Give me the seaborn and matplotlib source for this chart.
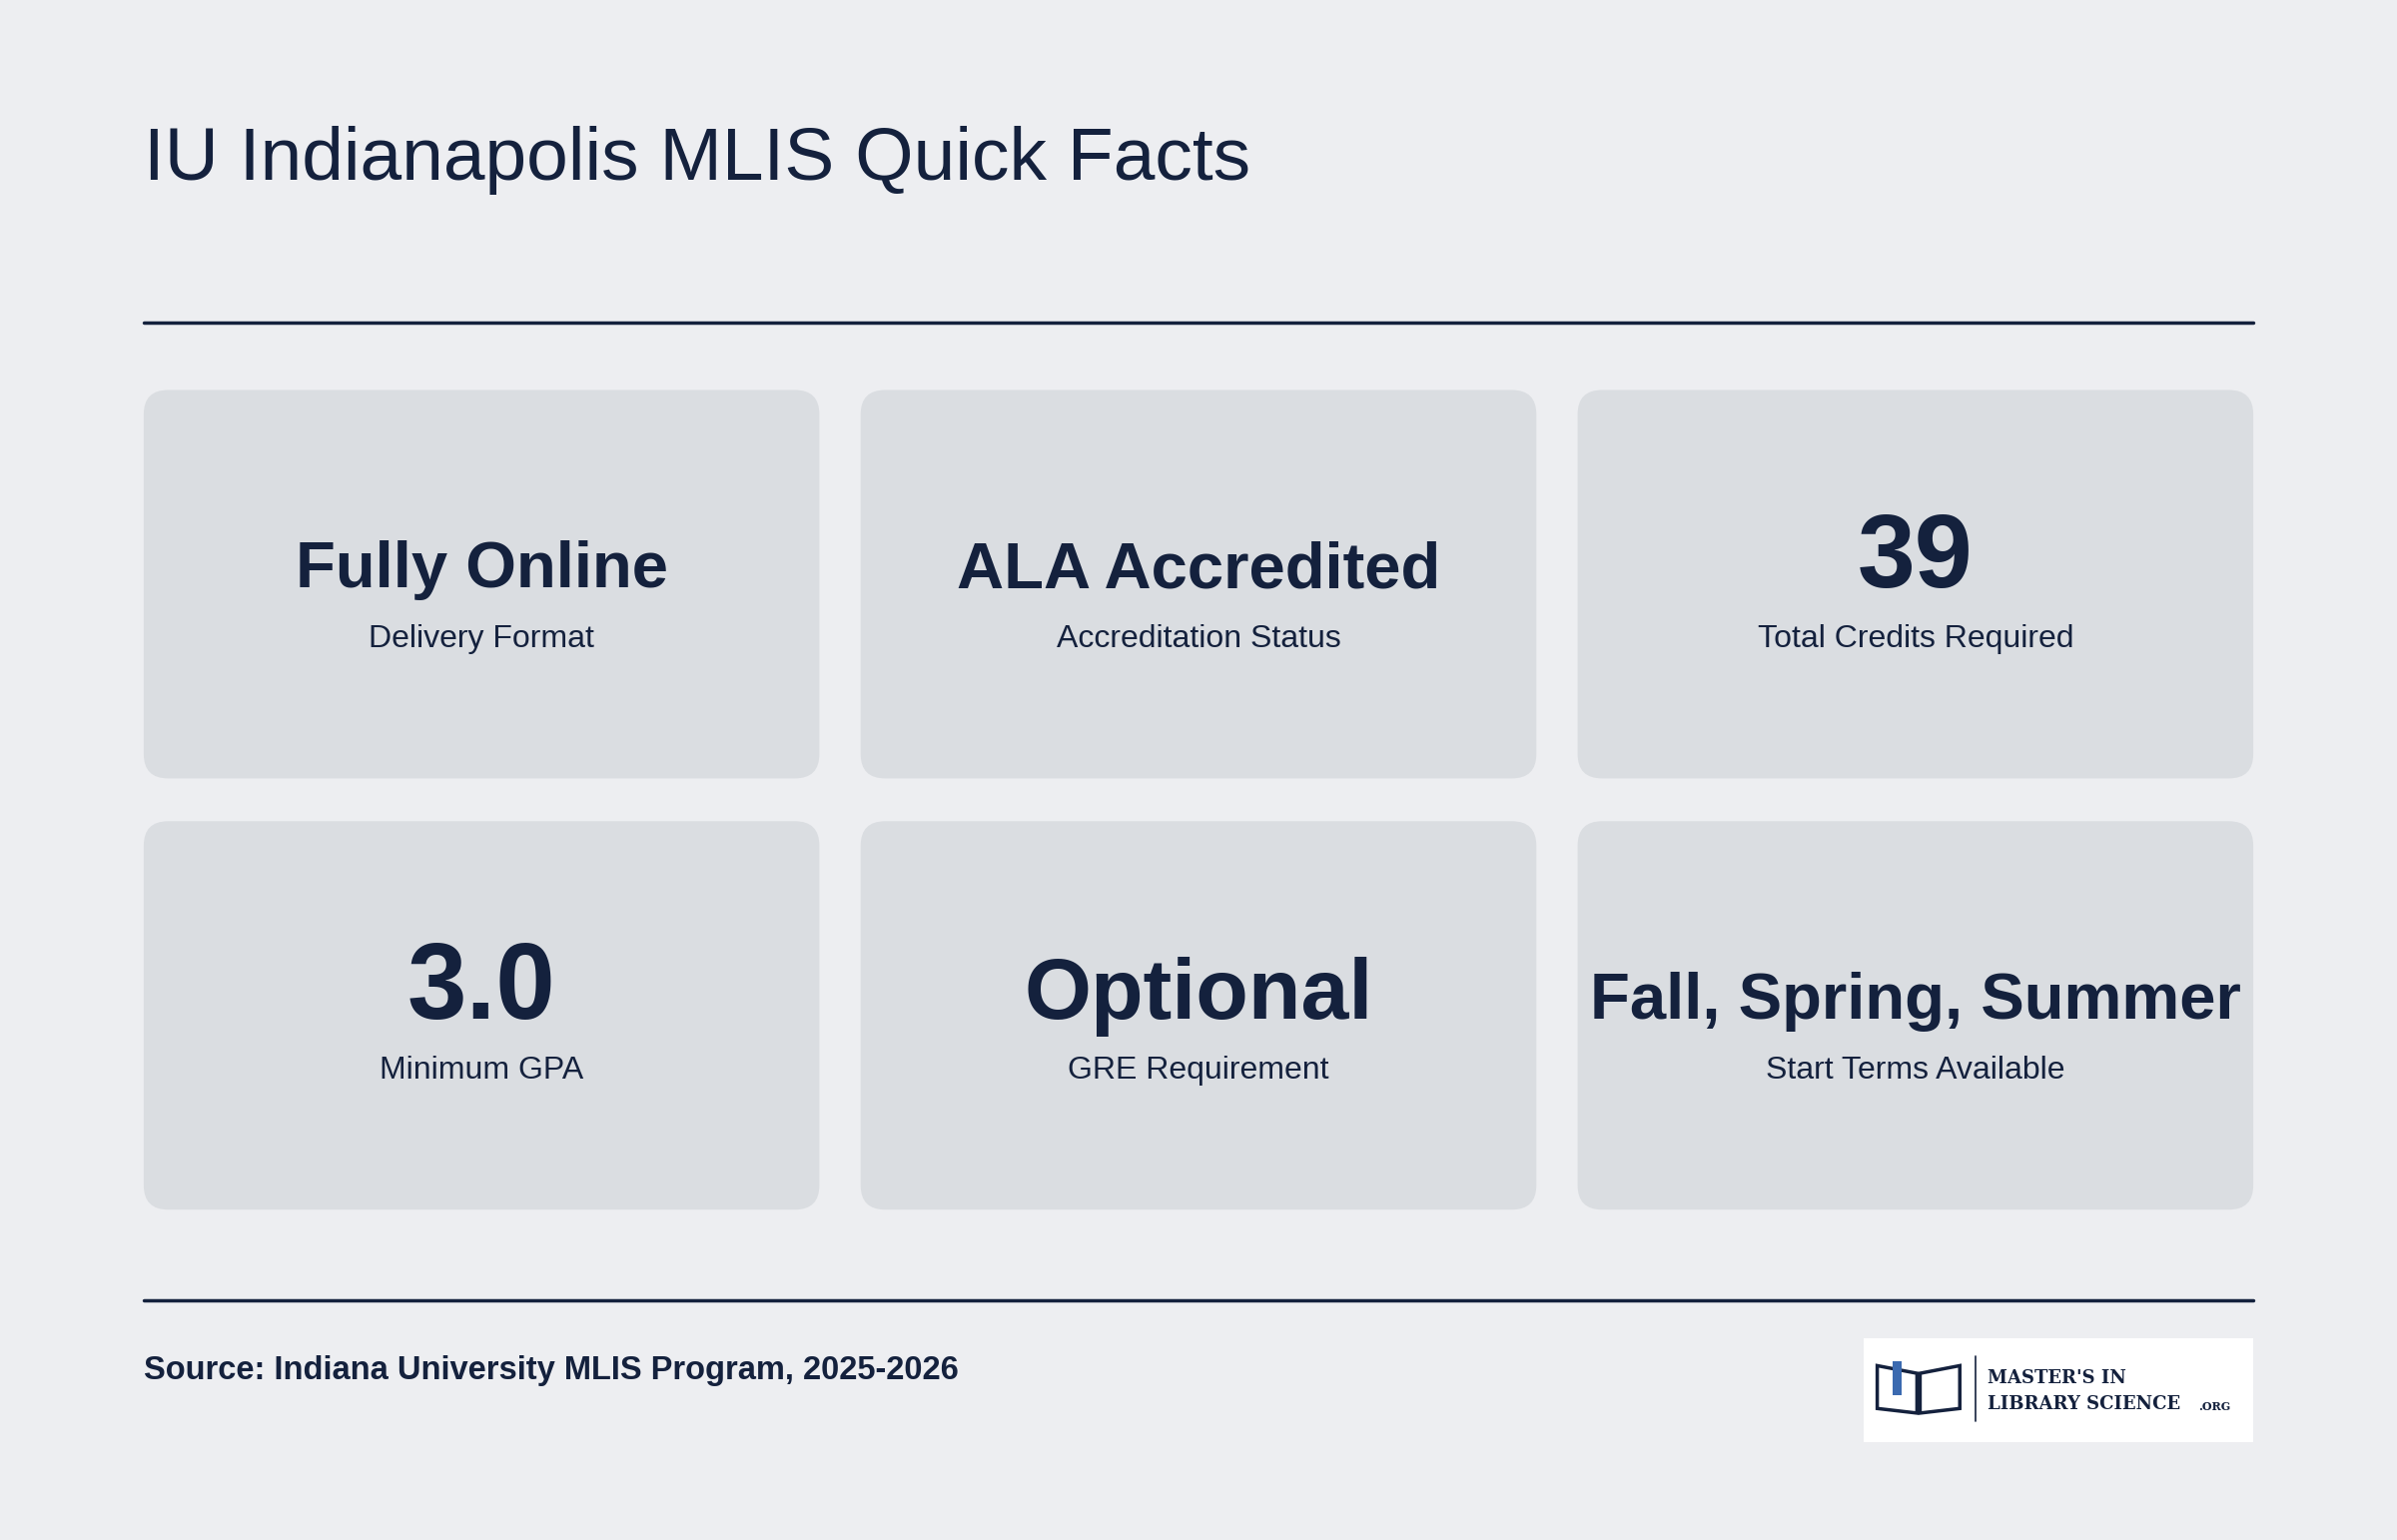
import seaborn as sns
import matplotlib.pyplot as plt
from matplotlib.patches import FancyBboxPatch, Rectangle, Polygon

sns.set_style("white")
plt.rcParams['font.family'] = ['Liberation Sans', 'DejaVu Sans']

# Dados
titulo = "IU Indianapolis MLIS Quick Facts"
valores = ["Fully Online", "ALA Accredited", "39", "3.0", "Optional", "Fall, Spring, Summer"]
rotulos = ["Delivery Format", "Accreditation Status", "Total Credits Required",
           "Minimum GPA", "GRE Requirement", "Start Terms Available"]
fonte = "Source: Indiana University MLIS Program, 2025-2026"

navy = "#14213d"
fundo = "#edeef1"
card = "#dadde1"

fig = plt.figure(figsize=(24, 15.42), dpi=100, facecolor=fundo)
ax = fig.add_axes([0, 0, 1, 1])
ax.set_xlim(0, 1568)
ax.set_ylim(1007, 0)
ax.axis("off")
ax.set_facecolor(fundo)

ax.text(94, 105, titulo, fontsize=54, color=navy, va="center", ha="left")
ax.plot([94, 1474], [211, 211], color=navy, lw=2.5)
ax.plot([94, 1474], [850, 850], color=navy, lw=2.5)

# tamanhos das fontes por valor (numeros maiores)
tamanhos = [47, 47, 75, 77, 62, 47]
xs = [94, 563, 1032]
ys = [255, 537]
w, h = 442, 254
for i, (v, r) in enumerate(zip(valores, rotulos)):
    x0 = xs[i % 3]
    y0 = ys[i // 3]
    ax.add_patch(FancyBboxPatch((x0, y0), w, h, boxstyle="round,pad=0,rounding_size=16",
                                fc=card, ec="none"))
    cx = x0 + w / 2
    ax.text(cx, y0 + 129, v, fontsize=tamanhos[i], fontweight="bold", color=navy,
            ha="center", va="baseline")
    ax.text(cx, y0 + 168, r, fontsize=23, color=navy, ha="center", va="baseline")

ax.text(94, 896, fonte, fontsize=23.5, fontweight="bold", color=navy, ha="left", va="center")

# logo
ax.add_patch(Rectangle((1219, 875), 255, 68, fc="white", ec="none"))
ax.add_patch(Polygon([[1228, 893], [1254, 898], [1254, 924], [1228, 921]], closed=True,
                     fc="none", ec=navy, lw=2.5))
ax.add_patch(Polygon([[1282, 893], [1256, 898], [1256, 924], [1282, 921]], closed=True,
                     fc="none", ec=navy, lw=2.5))
ax.add_patch(Rectangle((1238, 890), 6, 22, fc="#3b6ab0", ec="none"))
ax.plot([1292, 1292], [887, 929], color=navy, lw=1.2)
ax.text(1300, 901, "MASTER'S IN", fontsize=13, family="DejaVu Serif", fontweight="bold",
        color=navy, va="center")
ax.text(1300, 918, "LIBRARY SCIENCE", fontsize=13, family="DejaVu Serif", fontweight="bold",
        color=navy, va="center")
ax.text(1438, 920, ".ORG", fontsize=8, family="DejaVu Serif", fontweight="bold",
        color=navy, va="center")

fig.savefig("out.png", dpi=100, facecolor=fundo)
